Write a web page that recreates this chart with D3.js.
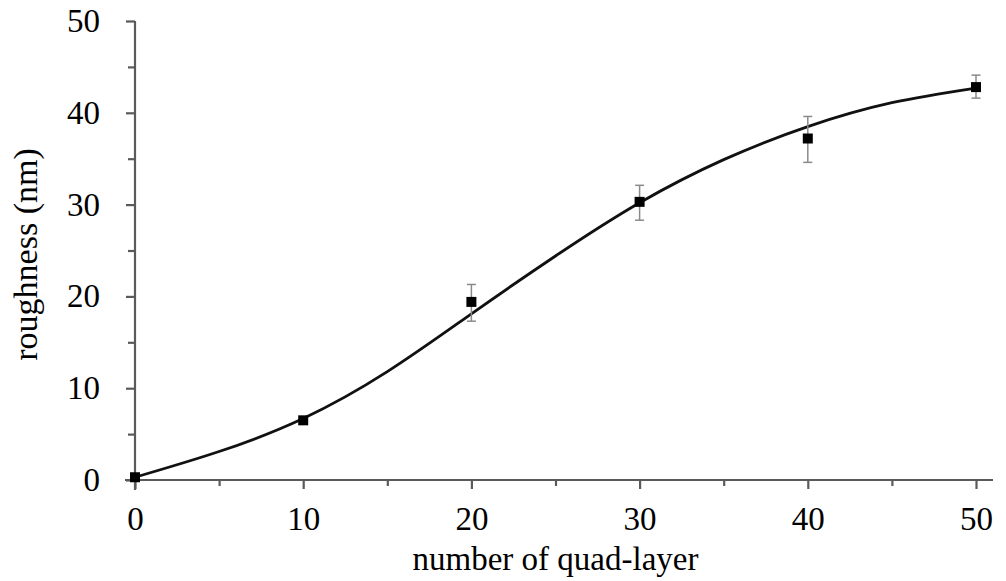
<!DOCTYPE html>
<html>
<head>
<meta charset="utf-8">
<script src="https://cdn.jsdelivr.net/npm/d3@7"></script>
<style>
  html, body { margin: 0; padding: 0; background: #fff; }
  svg { display: block; }
  .tick text { font-family: "Liberation Serif", "Times New Roman", serif; }
</style>
</head>
<body>
<svg id="chart" width="1006" height="581"></svg>
<script>
// Measured roughness per number of quad-layers, with error bars
const layers     = [0, 10, 20, 30, 40, 50];
const roughness  = [0.3, 6.5, 19.4, 30.3, 37.2, 42.8];
const errUpper   = [0.3, 6.5, 21.3, 32.1, 39.6, 44.1];
const errLower   = [0.3, 6.5, 17.3, 28.3, 34.6, 41.6];

// Sigmoidal fit curve
const fitLayers    = [0, 5, 10, 15, 20, 25, 30, 35, 40, 45, 50];
const fitRoughness = [0.3, 3.1, 6.7, 11.8, 18.1, 24.4, 30.2, 34.9, 38.5, 41.1, 42.7];

const majorTicks = [0, 10, 20, 30, 40, 50];
const minorTicks = [5, 15, 25, 35, 45];

const svg = d3.select("#chart");
const axisColor = "#5a5a5a";
const serif = '"Liberation Serif", "Times New Roman", serif';

const x = d3.scaleLinear().domain([0, 50]).range([135, 976]);
const y = d3.scaleLinear().domain([0, 50]).range([480, 21]);

// Axis lines (extend slightly past the origin)
svg.append("line")
  .attr("x1", x(0)).attr("x2", x(0))
  .attr("y1", y(50)).attr("y2", y(0) + 10)
  .attr("stroke", axisColor).attr("stroke-width", 2.2);
svg.append("line")
  .attr("x1", x(0) - 10).attr("x2", 993)
  .attr("y1", y(0)).attr("y2", y(0))
  .attr("stroke", axisColor).attr("stroke-width", 2.2);

function styleAxis(g) {
  g.select(".domain").remove();
  g.selectAll(".tick line").attr("stroke", axisColor).attr("stroke-width", 2.2);
  g.selectAll(".tick text").attr("fill", "#000").attr("font-size", 33);
}

// Y axis: major and minor ticks
svg.append("g").attr("transform", `translate(${x(0)},0)`)
  .call(d3.axisLeft(y).tickValues(majorTicks).tickSize(9).tickPadding(26).tickFormat(d3.format("d")))
  .call(styleAxis);
svg.append("g").attr("transform", `translate(${x(0)},0)`)
  .call(d3.axisLeft(y).tickValues(minorTicks).tickSize(7).tickFormat(""))
  .call(styleAxis);

// X axis: major and minor ticks
svg.append("g").attr("transform", `translate(0,${y(0)})`)
  .call(d3.axisBottom(x).tickValues(majorTicks).tickSize(9).tickPadding(18).tickFormat(d3.format("d")))
  .call(styleAxis);
svg.append("g").attr("transform", `translate(0,${y(0)})`)
  .call(d3.axisBottom(x).tickValues(minorTicks).tickSize(6).tickFormat(""))
  .call(styleAxis);

// Axis titles
svg.append("text")
  .attr("x", (x(0) + x(50)) / 2).attr("y", 570)
  .attr("text-anchor", "middle")
  .attr("font-family", serif).attr("font-size", 33)
  .text("number of quad-layer");
svg.append("text")
  .attr("transform", `translate(37,${(y(0) + y(50)) / 2 + 4}) rotate(-90)`)
  .attr("text-anchor", "middle")
  .attr("font-family", serif).attr("font-size", 34)
  .text("roughness (nm)");

// Fit curve
const line = d3.line()
  .x((d, i) => x(fitLayers[i]))
  .y(d => y(d))
  .curve(d3.curveNatural);
svg.append("path")
  .datum(fitRoughness)
  .attr("d", line)
  .attr("fill", "none")
  .attr("stroke", "#111")
  .attr("stroke-width", 2.8);

// Error bars
const errColor = "#8a8a8a";
const cap = 4.5;
const eb = svg.append("g");
layers.forEach((L, i) => {
  if (errUpper[i] - errLower[i] < 0.5) return;
  const cx = x(L);
  eb.append("line").attr("x1", cx).attr("x2", cx)
    .attr("y1", y(errUpper[i])).attr("y2", y(errLower[i]))
    .attr("stroke", errColor).attr("stroke-width", 1.5);
  [errUpper[i], errLower[i]].forEach(v => {
    eb.append("line").attr("x1", cx - cap).attr("x2", cx + cap)
      .attr("y1", y(v)).attr("y2", y(v))
      .attr("stroke", errColor).attr("stroke-width", 1.5);
  });
});

// Square markers
const s = 10;
svg.append("g").selectAll("rect")
  .data(roughness)
  .join("rect")
  .attr("x", (d, i) => x(layers[i]) - s / 2)
  .attr("y", d => y(d) - s / 2)
  .attr("width", s).attr("height", s)
  .attr("fill", "#000");
</script>
</body>
</html>
